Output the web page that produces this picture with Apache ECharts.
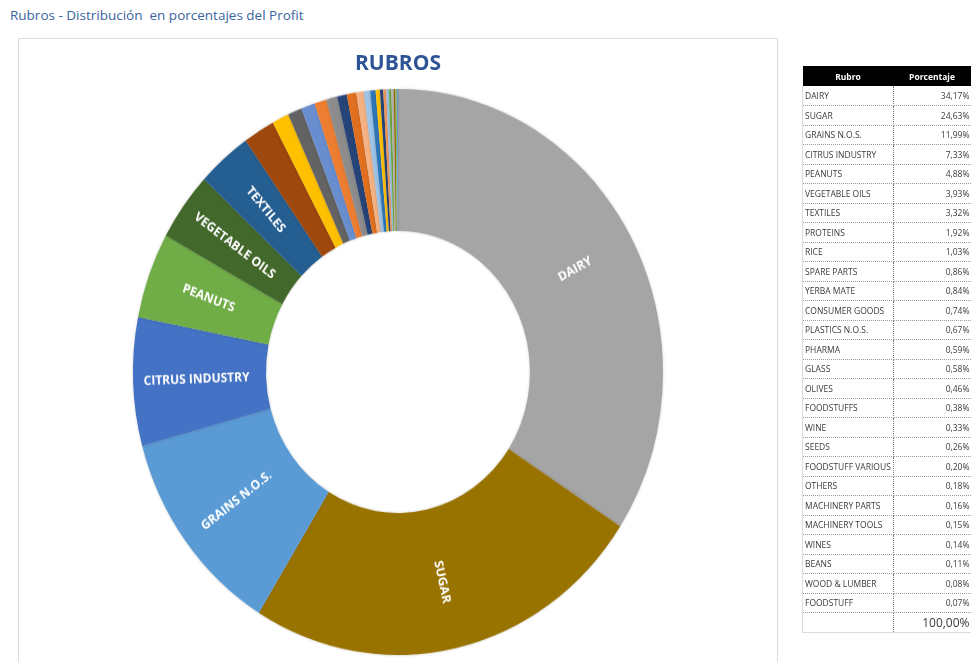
<!DOCTYPE html>
<html>
<head>
<meta charset="utf-8">
<script src="https://cdn.jsdelivr.net/npm/echarts@6/dist/echarts.min.js"></script>
<style>
  body { margin:0; width:971px; height:662px; background:#fff; overflow:hidden; position:relative; font-family:'Open Sans', sans-serif; }
  #pageTitle { position:absolute; left:10px; top:6px; font-size:13.5px; color:#3a64a0; white-space:pre; }
  #box { position:absolute; left:18px; top:38px; width:760px; height:640px; border:1px solid #dcdcdc; box-sizing:border-box; }
  #chartTitle { position:absolute; left:298px; width:200px; top:48px; text-align:center; font-size:21px; font-weight:bold; color:#2f5496; }
  /* el donut de Excel sale algo estirado en vertical */
  #chart { position:absolute; left:0; top:0; width:971px; height:662px; transform-origin:398px 372px; transform:scaleY(1.068); }
  #tbl { position:absolute; left:802px; top:66px; width:168px; border-collapse:collapse; font-size:8.5px; color:#3a3a3a; table-layout:fixed; }
  #tbl th { background:#000; color:#fff; font-weight:bold; height:20px; padding:0; text-align:center; }
  #tbl td { height:19.5px; padding:0 1px 0 2px; border-bottom:1px dotted #9a9a9a; box-sizing:border-box; white-space:nowrap; }
  #tbl td.c1 { border-right:1px dotted #777; border-left:1px solid #dcdcdc; }
  #tbl td.c2 { text-align:right; }
  #tbl tr.total td { border-bottom:1px solid #dcdcdc; font-size:12px; }
</style>
</head>
<body>
<div id="pageTitle">Rubros - Distribución  en porcentajes del Profit</div>
<div id="box"></div>
<div id="chart"></div>
<div id="chartTitle">RUBROS</div>
<table id="tbl"></table>
<script>
// datos del gráfico (porcentaje del profit por rubro)
var rubros = ['DAIRY', 'SUGAR', 'GRAINS N.O.S.', 'CITRUS INDUSTRY', 'PEANUTS', 'VEGETABLE OILS', 'TEXTILES',
  'PROTEINS', 'RICE', 'SPARE PARTS', 'YERBA MATE', 'CONSUMER GOODS', 'PLASTICS N.O.S.', 'PHARMA', 'GLASS',
  'OLIVES', 'FOODSTUFFS', 'WINE', 'SEEDS', 'FOODSTUFF VARIOUS', 'OTHERS', 'MACHINERY PARTS', 'MACHINERY TOOLS',
  'WINES', 'BEANS', 'WOOD & LUMBER', 'FOODSTUFF'];
var porcentajes = [34.17, 24.63, 11.99, 7.33, 4.88, 3.93, 3.32, 1.92, 1.03, 0.86, 0.84, 0.74, 0.67, 0.59, 0.58,
  0.46, 0.38, 0.33, 0.26, 0.20, 0.18, 0.16, 0.15, 0.14, 0.11, 0.08, 0.07];
var tablaHeader = ['Rubro', 'Porcentaje'];

var palette = ['#a5a5a5', '#997300', '#5b9bd5', '#4472c4', '#70ad47', '#43682b', '#255e91',
  '#9e480e', '#ffc000', '#636363', '#698ed0', '#ed7d31', '#8c8c8c', '#264478', '#e07020',
  '#f4b183', '#9dc3e6', '#2e75b6', '#ffc000', '#264478', '#f1975a', '#9dc3e6', '#70ad47',
  '#b7b7b7', '#997300', '#8cc168', '#5b9bd5'];

function fmt(v) {
  return v.toFixed(2).replace('.', ',') + '%';
}

// tabla de la derecha
var html = '<colgroup><col style="width:91px"><col style="width:77px"></colgroup>';
html += '<tr><th>' + tablaHeader[0] + '</th><th>' + tablaHeader[1] + '</th></tr>';
var total = 0;
for (var i = 0; i < rubros.length; i++) {
  total += porcentajes[i];
  html += '<tr><td class="c1">' + rubros[i].replace('&', '&amp;') + '</td><td class="c2">' + fmt(porcentajes[i]) + '</td></tr>';
}
html += '<tr class="total"><td class="c1"></td><td class="c2">' + fmt(total) + '</td></tr>';
document.getElementById('tbl').innerHTML = html;

var myChart = echarts.init(document.getElementById('chart'));
var option = {
  animation: false,
  series: [{
    type: 'pie',
    center: [398, 372],
    radius: [132, 265],
    startAngle: 90,
    clockwise: true,
    avoidLabelOverlap: false,
    silent: true,
    label: {
      show: true,
      position: 'inside',
      rotate: 'radial',
      color: '#fff',
      fontWeight: 'bold',
      fontSize: 12,
      fontFamily: 'Open Sans',
      formatter: function (p) {
        return p.value >= 3 ? p.name : '';
      }
    },
    labelLine: { show: false },
    itemStyle: {
      borderWidth: 0,
      shadowBlur: 3,
      shadowColor: 'rgba(0,0,0,0.18)'
    },
    data: rubros.map(function (n, i) {
      return { name: n, value: porcentajes[i], itemStyle: { color: palette[i] } };
    })
  }]
};
myChart.setOption(option);
</script>
</body>
</html>
